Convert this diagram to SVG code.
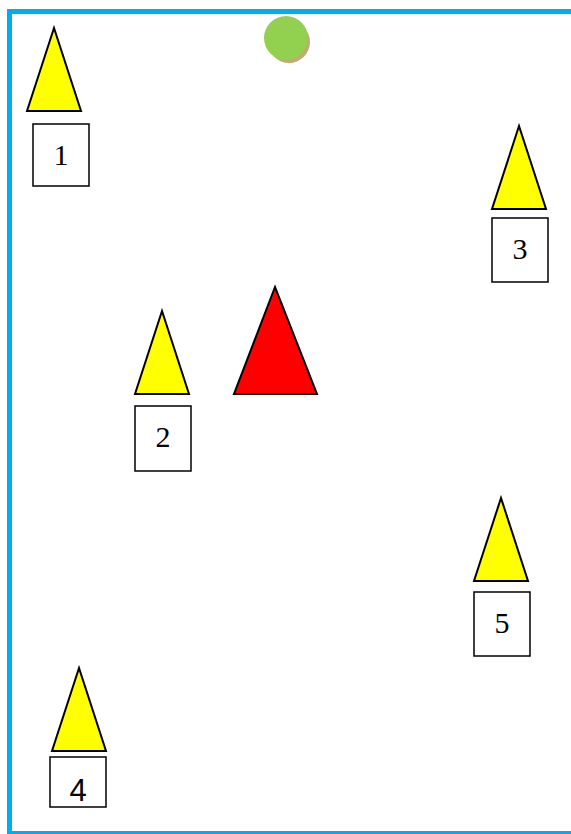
<svg xmlns="http://www.w3.org/2000/svg" width="571" height="834" viewBox="0 0 571 834">
<style>
.tri{fill:#ffff00;stroke:#000;stroke-width:2;stroke-linejoin:miter}
.box{fill:#fff;stroke:#000;stroke-width:1.5}
.lbl{font-family:"Liberation Serif",serif;font-size:30px;fill:#000;text-anchor:middle}
.lbls{font-family:"Liberation Sans",sans-serif;font-size:31px;fill:#000;text-anchor:middle}
</style>
<rect width="571" height="834" fill="#fff"/>
<rect x="9.5" y="11.5" width="580" height="822" fill="none" stroke="#00aeef" stroke-width="5"/>
<g id="ball">
<circle cx="289" cy="42" r="21" fill="#c4a87a"/>
<circle cx="286" cy="38" r="22" fill="#92d050"/>
</g>
<g id="center">
<polygon points="275,287 234,394 317,394" fill="#ff0000" stroke="#000" stroke-width="2"/>
</g>
<g id="n1">
<polygon class="tri" points="54,28 27,111 81,111"/>
<rect class="box" x="33" y="124" width="56" height="62"/>
<text class="lbl" x="61" y="165">1</text>
</g>
<g id="n2">
<polygon class="tri" points="162,311 135,394 189,394"/>
<rect class="box" x="135" y="406" width="56" height="65"/>
<text class="lbl" x="163" y="447">2</text>
</g>
<g id="n3">
<polygon class="tri" points="519,126 492,209 546,209"/>
<rect class="box" x="492" y="218" width="56" height="64"/>
<text class="lbl" x="520" y="259">3</text>
</g>
<g id="n4">
<polygon class="tri" points="79,668 52,751 106,751"/>
<rect class="box" x="50" y="757" width="56" height="50"/>
<text class="lbls" x="78" y="801">4</text>
</g>
<g id="n5">
<polygon class="tri" points="501,498 474,581 528,581"/>
<rect class="box" x="474" y="592" width="56" height="64"/>
<text class="lbl" x="502" y="633">5</text>
</g>
<g id="connectors"></g>
</svg>
